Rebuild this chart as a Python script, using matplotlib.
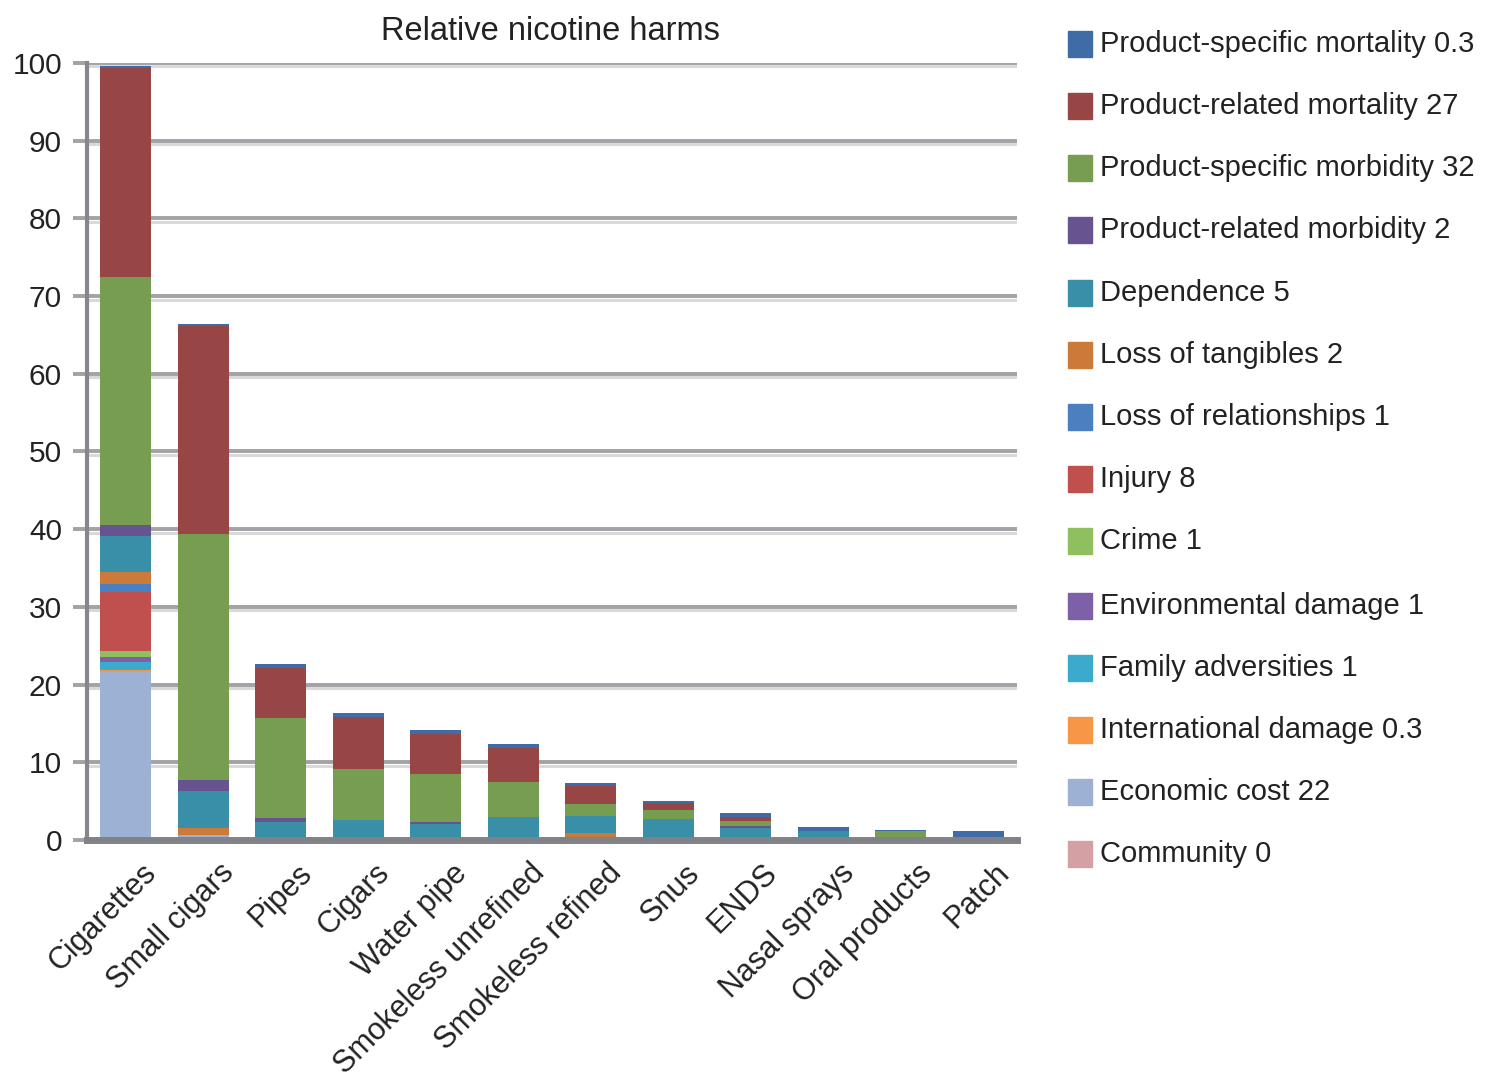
import matplotlib
matplotlib.use("Agg")
import matplotlib.pyplot as plt
import matplotlib.transforms as mtransforms
from matplotlib.patches import Rectangle
import numpy as np

plt.rcParams['font.family'] = ['Liberation Sans', 'DejaVu Sans']

categories = ["Cigarettes", "Small cigars", "Pipes", "Cigars", "Water pipe",
              "Smokeless unrefined", "Smokeless refined", "Snus", "ENDS",
              "Nasal sprays", "Oral products", "Patch"]

# Harm criteria, listed top of legend first
criteria = ["Product-specific mortality 0.3", "Product-related mortality 27",
            "Product-specific morbidity 32", "Product-related morbidity 2",
            "Dependence 5", "Loss of tangibles 2", "Loss of relationships 1",
            "Injury 8", "Crime 1", "Environmental damage 1",
            "Family adversities 1", "International damage 0.3",
            "Economic cost 22", "Community 0"]

colors = ["#3F6CA6", "#984545", "#779E50", "#66538F", "#3A8FA8", "#CC7A3A",
          "#4A7FC0", "#C0504D", "#8FBF5F", "#7D60A8", "#3BAACC", "#F79646",
          "#9DB1D5", "#D5A0A4"]

# Weighted scores per product for each criterion
product_specific_mortality = [0.3, 0.3, 0.4, 0.5, 0.5, 0.5, 0.4, 0.2, 0.5, 0.6, 0.2, 1.1]
product_related_mortality = [26.8, 26.7, 6.5, 6.6, 5.2, 4.3, 2.3, 0.9, 0.6, 0, 0, 0]
product_specific_morbidity = [31.9, 31.7, 12.9, 6.6, 6.2, 4.6, 1.5, 1.2, 0.6, 0, 1.1, 0]
product_related_morbidity = [1.5, 1.4, 0.5, 0, 0.3, 0, 0, 0, 0.2, 0, 0, 0]
dependence = [4.6, 4.8, 2.3, 2.6, 2.0, 2.9, 2.2, 2.7, 1.6, 1.1, 0, 0]
loss_of_tangibles = [1.6, 0.8, 0, 0, 0, 0, 0.9, 0, 0, 0, 0, 0]
loss_of_relationships = [1.0, 0, 0, 0, 0, 0, 0, 0, 0, 0, 0, 0]
injury = [7.6, 0, 0, 0, 0, 0, 0, 0, 0, 0, 0, 0]
crime = [0.7, 0, 0, 0, 0, 0, 0, 0, 0, 0, 0, 0]
environmental_damage = [0.7, 0, 0, 0, 0, 0, 0, 0, 0, 0, 0, 0]
family_adversities = [1.0, 0, 0, 0, 0, 0, 0, 0, 0, 0, 0, 0]
international_damage = [0.3, 0, 0, 0, 0, 0, 0, 0, 0, 0, 0, 0]
economic_cost = [21.6, 0.7, 0, 0, 0, 0, 0, 0, 0, 0, 0, 0]
community = [0, 0, 0, 0, 0, 0, 0, 0, 0, 0, 0, 0]

series = [product_specific_mortality, product_related_mortality,
          product_specific_morbidity, product_related_morbidity, dependence,
          loss_of_tangibles, loss_of_relationships, injury, crime,
          environmental_damage, family_adversities, international_damage,
          economic_cost, community]

TEXT = "#222222"
W, H = 1485, 1085
fig = plt.figure(figsize=(W / 100, H / 100), dpi=100)
ax = fig.add_axes([87 / W, 1 - 840 / H, (1017 - 87) / W, (840 - 63) / H])

x = np.arange(len(categories))
bottom = np.zeros(len(categories))
# stack from the last criterion upward
for vals, col in zip(series[::-1], colors[::-1]):
    v = np.array(vals, dtype=float)
    ax.bar(x, v, width=0.66, bottom=bottom, color=col, linewidth=0, zorder=3)
    bottom += v

ax.set_xlim(-0.5, len(categories) - 0.5)
ax.set_ylim(0, 100)
ax.set_yticks(np.arange(0, 101, 10))

# two-tone horizontal gridlines
for yv in range(10, 101, 10):
    ax.axhline(yv, color="#a2a2a7", lw=2.8, zorder=1)
    ax.axhline(yv - 0.45, color="#d9d9d9", lw=2.2, zorder=0.9)

for s in ["top", "right"]:
    ax.spines[s].set_visible(False)
ax.spines["left"].set_color("#86868d")
ax.spines["left"].set_linewidth(3.0)
ax.spines["bottom"].set_color("#818188")
ax.spines["bottom"].set_linewidth(5.0)
ax.spines["bottom"].set_zorder(5)

ax.tick_params(axis="y", length=10, width=2.8, color="#a2a2a7",
               direction="out", labelsize=21.5, pad=8, labelcolor=TEXT)
ax.set_xticks(x)
ax.set_xticklabels(categories, rotation=45, ha="right", va="top",
                   rotation_mode="anchor", fontsize=22, color=TEXT)
ax.tick_params(axis="x", length=0, pad=13)
shift = mtransforms.ScaledTranslation(16 / 100, 0, fig.dpi_scale_trans)
for lbl in ax.get_xticklabels():
    lbl.set_transform(lbl.get_transform() + shift)

fig.text(550 / W, 1 - 32 / H, "Relative nicotine harms", ha="center",
         va="center", fontsize=23.5, color=TEXT)

# legend column
row_y = [44, 106, 168, 230, 293, 355, 417, 479, 541, 606, 668, 730, 792, 854]
for label, col, yc in zip(criteria, colors, row_y):
    fig.patches.append(Rectangle((1068 / W, 1 - (yc + 13) / H), 24 / W, 26 / H,
                                 transform=fig.transFigure, color=col,
                                 figure=fig))
    fig.text(1100 / W, 1 - yc / H, label, ha="left", va="center",
             fontsize=21, color=TEXT)

fig.savefig("out.png", dpi=100, facecolor="white")
